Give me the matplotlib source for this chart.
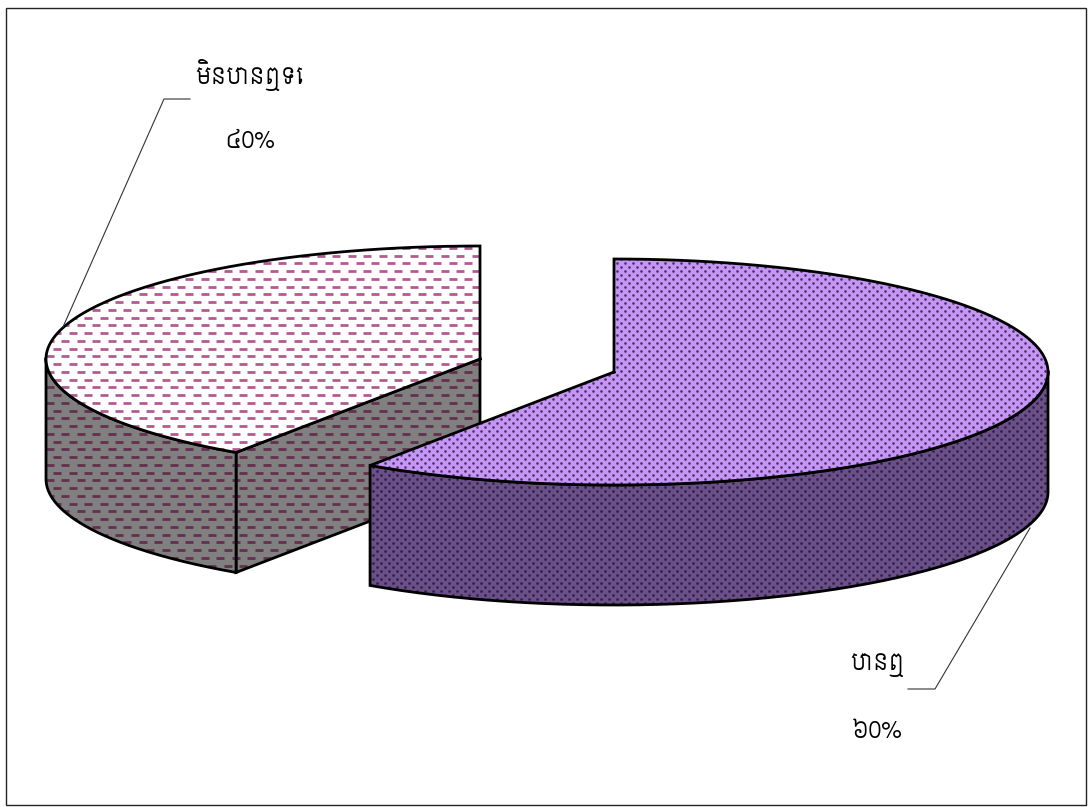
import numpy as np
import matplotlib
matplotlib.use("Agg")
import matplotlib.pyplot as plt
from matplotlib.path import Path
from matplotlib.patches import PathPatch, Rectangle
from matplotlib.collections import LineCollection

categories = ["បានឮ", "មិនបានឮទេ"]
values = [60, 40]
value_labels = ["៦0%", "៤0%"]

fam = ["Siemreap", "DejaVu Sans"]

W, H = 1092, 807
fig = plt.figure(figsize=(W / 100, H / 100), dpi=100)
ax = fig.add_axes([0, 0, 1, 1])
ax.set_xlim(0, W)
ax.set_ylim(H, 0)
ax.axis("off")

A, B, DEPTH = 434, 113, 120
VIEW = 1.8  # perspective shift of the shared slice edge, degrees
split = 360 * values[0] / sum(values) - VIEW


def arc(cx, cy, t0, t1, dy=0, n=200):
    t = np.radians(np.linspace(t0, t1, n))
    return np.column_stack([cx + A * np.sin(t), cy - B * np.cos(t) + dy])


def patch(pts, fc, zorder):
    path = Path(np.vstack([pts, pts[:1]]))
    p = PathPatch(path, fc=fc, ec="none", zorder=zorder)
    ax.add_patch(p)
    return p


def dashes(clip, color, zorder):
    segs = []
    for r, y in enumerate(np.arange(240, 600, 7.75)):
        off = 0 if r % 2 else 7.75
        for x in np.arange(30 + off, 500, 15.5):
            segs.append([(x, y), (x + 8, y)])
    lc = LineCollection(segs, colors=color, linewidths=2.0, zorder=zorder)
    ax.add_collection(lc)
    lc.set_clip_path(clip)


def dots(clip, color, zorder):
    xs, ys = [], []
    for r, y in enumerate(np.arange(255, 610, 4.0)):
        off = 0 if r % 2 else 4.0
        x = np.arange(365 + off, 1055, 8.0)
        xs.extend(x)
        ys.extend([y] * len(x))
    s = ax.scatter(xs, ys, s=3.6, c=color, linewidths=0, zorder=zorder)
    s.set_clip_path(clip)


def outline(pts, zorder, lw=2.0):
    p = np.vstack([pts, pts[:1]])
    ax.plot(p[:, 0], p[:, 1], color="black", lw=lw, zorder=zorder,
            solid_joinstyle="miter")


# frame
ax.add_patch(Rectangle((6, 8), 1080, 797, fc="white", ec="#222222", lw=1.0, zorder=0))

# ---- left slice (40 %)
lx, ly = 480, 359
inner = np.array([arc(lx, ly, split, split, n=1)[0], [lx, ly], [lx, ly + DEPTH],
                  arc(lx, ly, split, split, DEPTH, n=1)[0]])
p = patch(inner, "#808080", 1)
dashes(p, "#64304f", 1.5)
outline(inner, 2)

side = np.vstack([arc(lx, ly, 270, split, n=150), arc(lx, ly, split, 270, DEPTH, n=150)])
p = patch(side, "#808080", 3)
dashes(p, "#64304f", 3.5)
outline(side, 4)

top = np.vstack([[[lx, ly]], arc(lx, ly, split, 360)])
p = patch(top, "white", 5)
dashes(p, "#b45a90", 5.5)
outline(top, 6)

# ---- right slice (60 %)
rx, ry = 614, 372
side = np.vstack([arc(rx, ry, 90, split), arc(rx, ry, split, 90, DEPTH)])
p = patch(side, "#6a4f88", 7)
dots(p, "#2e2040", 7.5)
outline(side, 8)

top = np.vstack([[[rx, ry]], arc(rx, ry, 0, split)])
p = patch(top, "#c596f8", 9)
dots(p, "#4a3560", 9.5)
outline(top, 10)

# ---- leader lines and labels
ax.plot([190, 164, 63], [99, 99, 327], color="#333333", lw=0.8, zorder=11)
ax.plot([908, 935, 1030], [689, 689, 528], color="#333333", lw=0.8, zorder=11)

ax.text(250, 75, categories[1], ha="center", va="center", fontsize=16.5, family=fam, zorder=12)
ax.text(250, 141, value_labels[1], ha="center", va="center", fontsize=16.5, family=fam, zorder=12)
ax.text(877, 665, categories[0], ha="center", va="center", fontsize=16.5, family=fam, zorder=12)
ax.text(877, 732, value_labels[0], ha="center", va="center", fontsize=16.5, family=fam, zorder=12)

fig.savefig("out.png", dpi=100)
